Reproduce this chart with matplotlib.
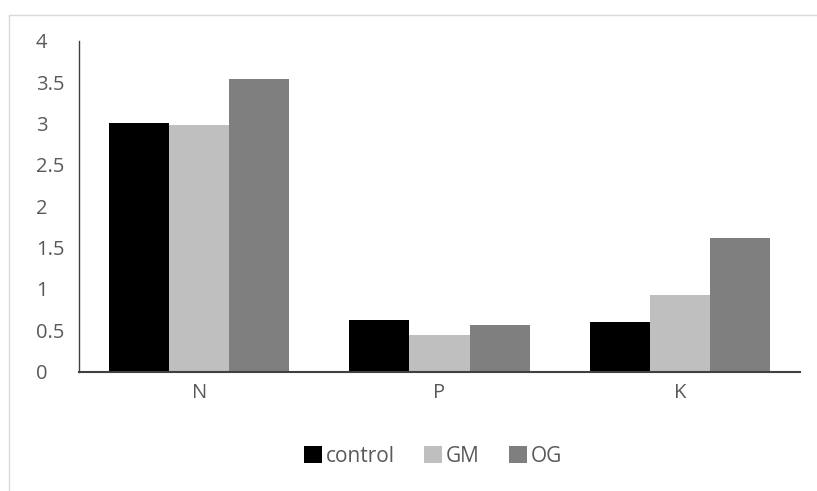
import matplotlib.pyplot as plt
import numpy as np
from matplotlib.lines import Line2D

categories = ["N", "P", "K"]
series_names = ["control", "GM", "OG"]
control = [3.00, 0.62, 0.60]
gm = [2.98, 0.44, 0.93]
og = [3.54, 0.57, 1.61]
colors = ["#000000", "#bfbfbf", "#7f7f7f"]
yticks = [0, 0.5, 1, 1.5, 2, 2.5, 3, 3.5, 4]
ytick_labels = ["0", "0.5", "1", "1.5", "2", "2.5", "3", "3.5", "4"]

plt.rcParams['font.family'] = ['Open Sans', 'DejaVu Sans']

fig = plt.figure(figsize=(8.17, 4.91), dpi=100)
ax = fig.add_axes([79 / 817, 1 - 371.7 / 491, 721 / 817, 331 / 491])

x = np.arange(len(categories))
w = 0.25
for i, (vals, name) in enumerate(zip([control, gm, og], series_names)):
    ax.bar(x + (i - 1) * w, vals, w, color=colors[i], label=name, linewidth=0)

ax.set_xlim(-0.5, 2.5)
ax.set_ylim(0, 4)
ax.set_xticks(x)
ax.set_xticklabels(categories)
ax.set_yticks(yticks)
ax.set_yticklabels(ytick_labels)
for lab in ax.get_yticklabels():
    lab.set_horizontalalignment("left")
ax.tick_params(axis="y", length=0, pad=31, labelsize=14.5, labelcolor="#595959")
ax.tick_params(axis="x", length=0, pad=8, labelsize=14.5, labelcolor="#595959")

for s in ["top", "right"]:
    ax.spines[s].set_visible(False)
ax.spines["left"].set_color("#404040")
ax.spines["left"].set_linewidth(1)
ax.spines["bottom"].set_color("#404040")
ax.spines["bottom"].set_linewidth(1.5)

leg = ax.legend(loc="center", bbox_to_anchor=(433 / 817, 1 - 456 / 491),
                bbox_transform=fig.transFigure, ncol=3, frameon=False,
                fontsize=15, handlelength=0.85, handleheight=0.85,
                handletextpad=0.2, columnspacing=1.4)
for t in leg.get_texts():
    t.set_color("#595959")

# chart area border (light gray)
fig.add_artist(Line2D([9 / 817, 1], [1 - 15 / 491, 1 - 15 / 491], color="#d9d9d9", lw=1))
fig.add_artist(Line2D([9 / 817, 9 / 817], [0, 1 - 15 / 491], color="#d9d9d9", lw=1))

fig.savefig("out.png", dpi=100)
